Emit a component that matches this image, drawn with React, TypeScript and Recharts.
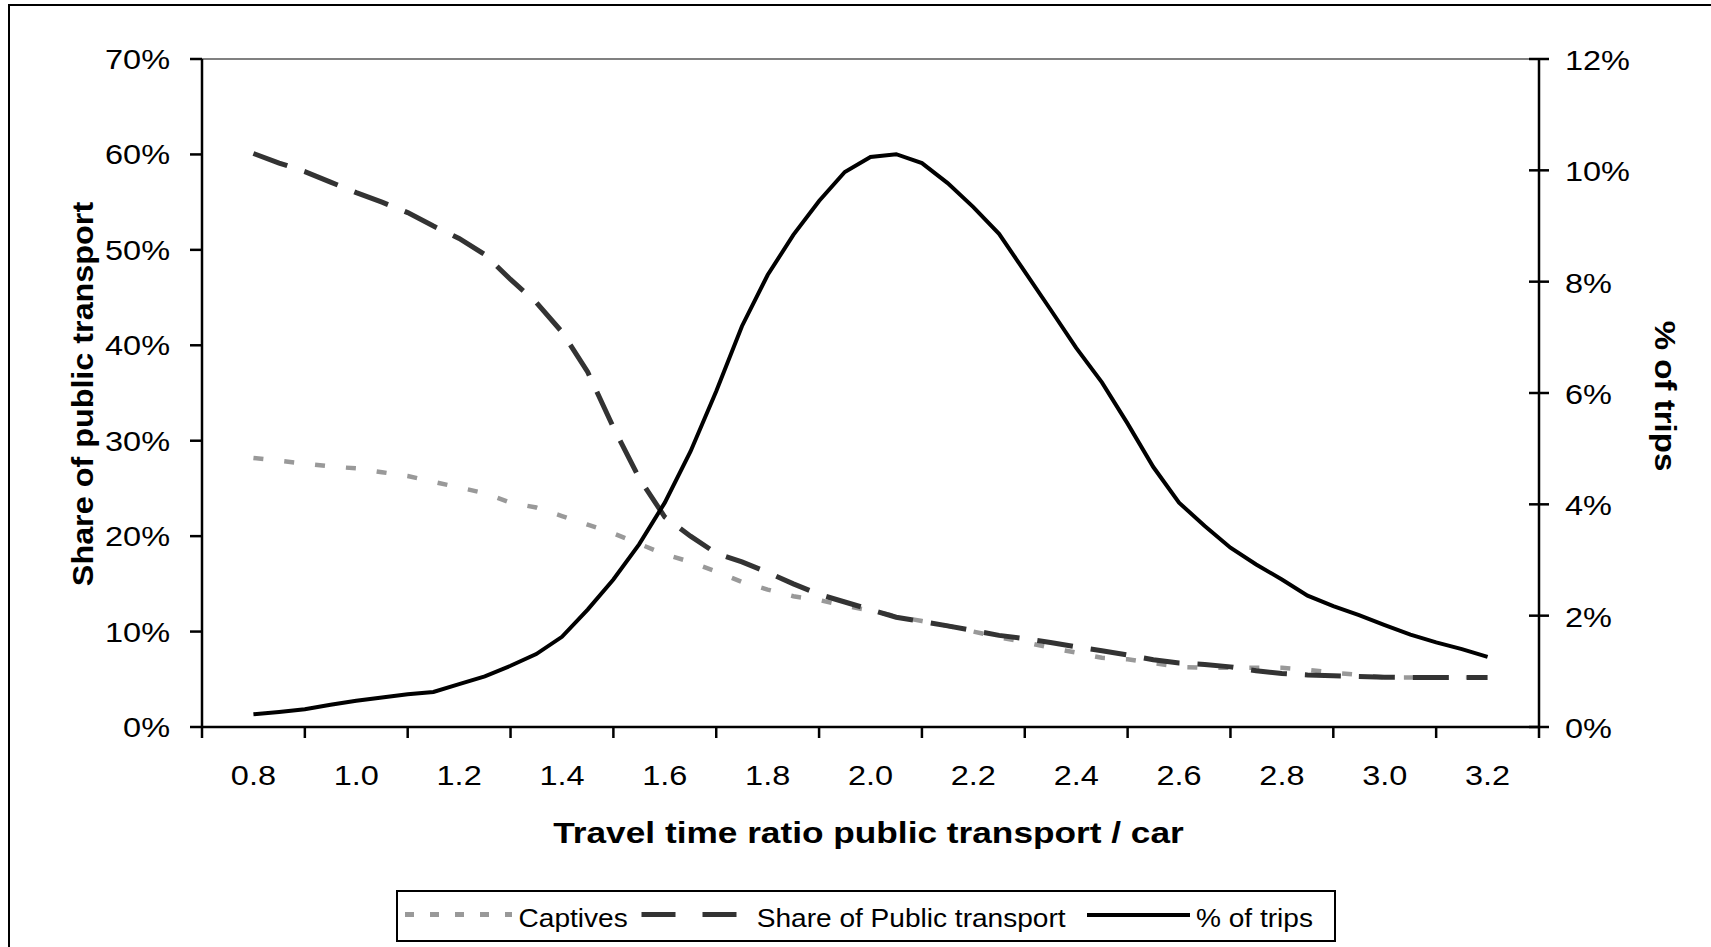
import React from 'react';
import { LineChart, Line, XAxis, YAxis, ReferenceLine, Legend, Label } from 'recharts';

const X_VALUES = [
  0.8, 0.85, 0.9, 0.95, 1.0, 1.05, 1.1, 1.15, 1.2, 1.25,
  1.3, 1.35, 1.4, 1.45, 1.5, 1.55, 1.6, 1.65, 1.7, 1.75,
  1.8, 1.85, 1.9, 1.95, 2.0, 2.05, 2.1, 2.15, 2.2, 2.25,
  2.3, 2.35, 2.4, 2.45, 2.5, 2.55, 2.6, 2.65, 2.7, 2.75,
  2.8, 2.85, 2.9, 2.95, 3.0, 3.05, 3.1, 3.15, 3.2,
];

const CAPTIVES = [
  28.2, 27.9, 27.6, 27.3, 27.1, 26.7, 26.3, 25.7, 25.1, 24.5,
  23.5, 23.0, 22.1, 21.2, 20.3, 19.2, 18.1, 17.3, 16.3, 15.2,
  14.4, 13.7, 13.3, 12.7, 12.2, 11.6, 11.1, 10.6, 10.0, 9.4,
  8.9, 8.3, 7.8, 7.25, 7.1, 6.7, 6.3, 6.2, 6.2, 6.2,
  6.2, 6.0, 5.7, 5.45, 5.2, 5.2, 5.2, 5.2, 5.2,
];

const SHARE_PT = [
  60.1, 59.1, 58.2, 57.1, 56.0, 55.0, 53.9, 52.5, 51.2, 49.5,
  46.9, 44.5, 41.4, 37.2, 31.4, 26.1, 22.0, 20.0, 18.2, 17.3,
  16.2, 15.0, 13.9, 13.1, 12.3, 11.5, 11.05, 10.6, 10.1, 9.6,
  9.25, 8.85, 8.4, 8.0, 7.55, 7.05, 6.7, 6.55, 6.3, 5.9,
  5.6, 5.45, 5.38, 5.3, 5.22, 5.2, 5.2, 5.2, 5.2,
];

const TRIPS = [
  0.23, 0.27, 0.32, 0.40, 0.47, 0.53, 0.59, 0.63, 0.77, 0.91,
  1.10, 1.31, 1.62, 2.11, 2.65, 3.28, 4.03, 4.95, 6.03, 7.20,
  8.12, 8.84, 9.45, 9.97, 10.24, 10.29, 10.13, 9.77, 9.34, 8.86,
  8.18, 7.50, 6.81, 6.19, 5.45, 4.67, 4.03, 3.61, 3.22, 2.92,
  2.65, 2.36, 2.17, 2.01, 1.83, 1.66, 1.52, 1.40, 1.26,
];

const X_LABEL_TICKS = [0.8, 1.0, 1.2, 1.4, 1.6, 1.8, 2.0, 2.2, 2.4, 2.6, 2.8, 3.0, 3.2];
const X_MARK_TICKS = [0.7, 0.9, 1.1, 1.3, 1.5, 1.7, 1.9, 2.1, 2.3, 2.5, 2.7, 2.9, 3.1, 3.3];
const LEFT_TICKS = [0, 10, 20, 30, 40, 50, 60, 70];
const RIGHT_TICKS = [0, 2, 4, 6, 8, 10, 12];

const SERIES_NAMES = ['Captives', 'Share of Public transport', '% of trips'];
const X_TITLE = 'Travel time ratio public transport / car';
const LEFT_TITLE = 'Share of public transport';
const RIGHT_TITLE = '% of trips';

const FONT = "'Liberation Sans', Arial, Helvetica, sans-serif";
const GRAY = '#999999';
const DARK = '#333333';

const data = X_VALUES.map((x, i) => ({
  x,
  captives: CAPTIVES[i],
  share: SHARE_PT[i],
  trips: TRIPS[i],
}));

const xTicks = [...X_MARK_TICKS, ...X_LABEL_TICKS].sort((a, b) => a - b);

const XTick = (props: any) => {
  const { x, y, payload } = props;
  const v = payload.value;
  if (X_LABEL_TICKS.includes(v)) {
    return (
      <text
        x={0}
        y={0}
        transform={`translate(${x},${y + 58}) scale(1.16,1)`}
        textAnchor="middle"
        fontFamily={FONT}
        fontSize={28}
        fill="#000"
      >
        {v.toFixed(1)}
      </text>
    );
  }
  return <line x1={x} y1={y} x2={x} y2={y + 11} stroke="#000" strokeWidth={2.5} />;
};

const LeftTick = (props: any) => {
  const { x, y, payload } = props;
  return (
    <text
      x={0}
      y={0}
      transform={`translate(${x},${y + 10}) scale(1.16,1)`}
      textAnchor="end"
      fontFamily={FONT}
      fontSize={28}
      fill="#000"
    >
      {`${payload.value}%`}
    </text>
  );
};

const RightTick = (props: any) => {
  const { x, y, payload } = props;
  const axisX = x - 26;
  return (
    <g>
      <line x1={axisX - 10} y1={y} x2={axisX + 10} y2={y} stroke="#000" strokeWidth={2.5} />
      <text
        x={0}
        y={0}
        transform={`translate(${x},${y + 11}) scale(1.16,1)`}
        textAnchor="start"
        fontFamily={FONT}
        fontSize={28}
        fill="#000"
      >
        {`${payload.value}%`}
      </text>
    </g>
  );
};

const XTitle = (props: any) => {
  const vb = props.viewBox || { x: 202, y: 727, width: 1337, height: 120 };
  return (
    <text
      x={0}
      y={0}
      transform={`translate(${vb.x + vb.width / 2 - 2},${vb.y + 116}) scale(1.175,1)`}
      textAnchor="middle"
      fontFamily={FONT}
      fontWeight="bold"
      fontSize={30}
      fill="#000"
    >
      {X_TITLE}
    </text>
  );
};

const LeftTitle = (props: any) => {
  const vb = props.viewBox || { x: 0, y: 59, width: 202, height: 668 };
  return (
    <text
      x={0}
      y={0}
      transform={`translate(${vb.x + 93},${vb.y + vb.height / 2 + 1}) rotate(-90) scale(1.115,1)`}
      textAnchor="middle"
      fontFamily={FONT}
      fontWeight="bold"
      fontSize={29}
      fill="#000"
    >
      {LEFT_TITLE}
    </text>
  );
};

const RightTitle = (props: any) => {
  const vb = props.viewBox || { x: 1539, y: 59, width: 172, height: 668 };
  return (
    <text
      x={0}
      y={0}
      transform={`translate(${vb.x + 116},${vb.y + vb.height / 2 + 3}) rotate(90) scale(1.14,1)`}
      textAnchor="middle"
      fontFamily={FONT}
      fontWeight="bold"
      fontSize={29}
      fill="#000"
    >
      {RIGHT_TITLE}
    </text>
  );
};

const LegendBox = () => {
  const textProps = { fontFamily: FONT, fontSize: 26, fill: '#000' };
  return (
    <svg width={940} height={52} style={{ display: 'block' }}>
      <rect x={1} y={1} width={938} height={50} fill="#fff" stroke="#000" strokeWidth={2} />
      <line x1={9} y1={24.5} x2={116} y2={24.5} stroke={GRAY} strokeWidth={5} strokeDasharray="9 16" />
      <text x={0} y={0} transform="translate(122.5,36.7) scale(1.08,1)" {...textProps}>
        {SERIES_NAMES[0]}
      </text>
      <line x1={245.5} y1={24.5} x2={342.5} y2={24.5} stroke={DARK} strokeWidth={5} strokeDasharray="34 27" />
      <text x={0} y={0} transform="translate(360.7,36.7) scale(1.08,1)" {...textProps}>
        {SERIES_NAMES[1]}
      </text>
      <line x1={691} y1={25} x2={794} y2={25} stroke="#000" strokeWidth={4} />
      <text x={0} y={0} transform="translate(800,36.7) scale(1.08,1)" {...textProps}>
        {SERIES_NAMES[2]}
      </text>
    </svg>
  );
};

export default function App() {
  return (
    <div
      style={{
        position: 'fixed',
        left: 0,
        top: 0,
        width: 1711,
        height: 947,
        overflow: 'hidden',
        background: '#fff',
      }}
    >
      <div
        style={{
          position: 'absolute',
          left: 8,
          top: 4,
          width: 1800,
          height: 1000,
          border: '2px solid #000',
          background: '#fff',
        }}
      />
      <div style={{ position: 'absolute', left: 0, top: 0 }}>
        <LineChart
          width={1711}
          height={947}
          data={data}
          margin={{ top: 59, right: 0, bottom: 100, left: 0 }}
        >
          <XAxis
            dataKey="x"
            type="number"
            domain={[0.7, 3.3]}
            ticks={xTicks}
            interval={0}
            height={120}
            tickSize={0}
            tickMargin={0}
            tickLine={false}
            axisLine={{ stroke: '#000', strokeWidth: 2.5 }}
            tick={<XTick />}
          >
            <Label content={<XTitle />} />
          </XAxis>
          <YAxis
            yAxisId="left"
            orientation="left"
            width={202}
            domain={[0, 70]}
            ticks={LEFT_TICKS}
            interval={0}
            tickSize={12}
            tickMargin={20}
            tickLine={{ stroke: '#000', strokeWidth: 2.5 }}
            axisLine={{ stroke: '#000', strokeWidth: 2.5 }}
            tick={<LeftTick />}
          >
            <Label content={<LeftTitle />} />
          </YAxis>
          <YAxis
            yAxisId="right"
            orientation="right"
            width={172}
            domain={[0, 12]}
            ticks={RIGHT_TICKS}
            interval={0}
            tickSize={0}
            tickMargin={26}
            tickLine={false}
            axisLine={{ stroke: '#000', strokeWidth: 2.5 }}
            tick={<RightTick />}
          >
            <Label content={<RightTitle />} />
          </YAxis>
          <ReferenceLine yAxisId="left" y={70} stroke="#808080" strokeWidth={2} />
          <Line
            yAxisId="left"
            type="linear"
            dataKey="captives"
            name={SERIES_NAMES[0]}
            stroke={GRAY}
            strokeWidth={4.5}
            strokeDasharray="10 21"
            dot={false}
            activeDot={false}
            isAnimationActive={false}
          />
          <Line
            yAxisId="left"
            type="linear"
            dataKey="share"
            name={SERIES_NAMES[1]}
            stroke={DARK}
            strokeWidth={5}
            strokeDasharray="36 18"
            dot={false}
            activeDot={false}
            isAnimationActive={false}
          />
          <Line
            yAxisId="right"
            type="linear"
            dataKey="trips"
            name={SERIES_NAMES[2]}
            stroke="#000"
            strokeWidth={4}
            dot={false}
            activeDot={false}
            isAnimationActive={false}
          />
          <Legend
            layout="horizontal"
            align="center"
            verticalAlign="middle"
            wrapperStyle={{ left: 396, top: 890, width: 940, height: 52 }}
            content={() => <LegendBox />}
          />
        </LineChart>
      </div>
    </div>
  );
}
